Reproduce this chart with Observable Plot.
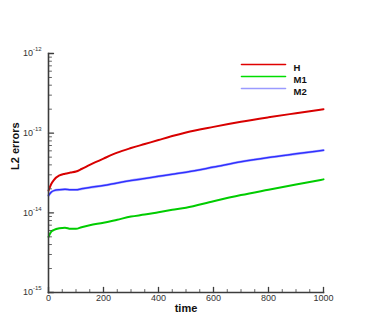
<!DOCTYPE html>
<html>
<head>
<meta charset="utf-8">
<script src="https://cdn.jsdelivr.net/npm/d3@7"></script>
<script src="https://cdn.jsdelivr.net/npm/@observablehq/plot@0.6"></script>
<style>
  html, body { margin: 0; padding: 0; background: #fff; }
  #chart { width: 368px; height: 327px; }
</style>
</head>
<body>
<div id="chart"></div>
<script>
// ---- data ----
const time = [0, 10, 20, 40, 60, 80, 100, 120, 150, 200, 250, 300, 350, 400, 450, 500, 600, 700, 800, 900, 1000];
const errH  = [1.9e-14, 2.3e-14, 2.6e-14, 2.95e-14, 3.1e-14, 3.2e-14, 3.3e-14, 3.55e-14, 4.0e-14, 4.8e-14, 5.7e-14, 6.5e-14, 7.3e-14, 8.2e-14, 9.2e-14, 1.02e-13, 1.2e-13, 1.39e-13, 1.58e-13, 1.78e-13, 2.0e-13];
const errM1 = [5.0e-15, 5.8e-15, 6.1e-15, 6.4e-15, 6.5e-15, 6.3e-15, 6.3e-15, 6.6e-15, 7.0e-15, 7.5e-15, 8.2e-15, 8.97e-15, 9.5e-15, 1.02e-14, 1.09e-14, 1.16e-14, 1.4e-14, 1.67e-14, 1.95e-14, 2.27e-14, 2.63e-14];
const errM2 = [1.65e-14, 1.82e-14, 1.9e-14, 1.95e-14, 1.97e-14, 1.95e-14, 1.95e-14, 2.0e-14, 2.08e-14, 2.2e-14, 2.37e-14, 2.54e-14, 2.7e-14, 2.87e-14, 3.05e-14, 3.24e-14, 3.75e-14, 4.37e-14, 4.95e-14, 5.5e-14, 6.1e-14];
const seriesNames = ["H", "M1", "M2"];
const seriesColors = ["#d80000", "#00cc00", "#3030ff"];
const legendColors = ["#e00000", "#00dd00", "#9a9aff"];
const xDomain = [0, 1000];
const yDomain = [1e-15, 1e-12];
const xMajorTicks = [0, 200, 400, 600, 800, 1000];
const xMinorTicks = d3.range(50, 1000, 50).filter(v => v % 200 !== 0);
const yMajorTicks = [1e-15, 1e-14, 1e-13, 1e-12];
const yExponents = ["-15", "-14", "-13", "-12"];
const yMinorTicks = [1e-15, 1e-14, 1e-13].flatMap(d => [2,3,4,5,6,7,8,9].map(m => m * d));
const xLabel = "time";
const yLabel = "L2 errors";

// ---- build table ----
const seriesValues = [errH, errM1, errM2];
const rows = seriesNames.flatMap((name, s) => time.map((t, i) => ({series: name, time: t, value: seriesValues[s][i]})));

const axisColor = "#3c3c3c";
const font = "'Liberation Sans', Arial, Helvetica, sans-serif";
const tickShape = {draw(context, l) { context.moveTo(0, 0); context.lineTo(0, -l); }};

const marks = [];
// curves
seriesNames.forEach((name, s) => {
  const data = rows.filter(d => d.series === name);
  if (name === "M2") {
    marks.push(Plot.line(data, {x: "time", y: "value", stroke: "#b8b8ff", strokeWidth: 2.6, curve: "monotone-x"}));
  }
  marks.push(Plot.line(data, {x: "time", y: "value", stroke: seriesColors[s], strokeWidth: name === "M2" ? 1.5 : 2, curve: "monotone-x"}));
});
// axes lines
marks.push(Plot.frame({anchor: "left", stroke: axisColor, strokeWidth: 1.6}));
marks.push(Plot.frame({anchor: "bottom", stroke: axisColor, strokeWidth: 1.6}));
// y ticks (inward)
marks.push(Plot.vector(yMajorTicks, {y: d => d, frameAnchor: "left", rotate: 90, length: 5, anchor: "start", shape: tickShape, stroke: axisColor, strokeWidth: 1.3}));
marks.push(Plot.vector(yMinorTicks, {y: d => d, frameAnchor: "left", rotate: 90, length: 3, anchor: "start", shape: tickShape, stroke: axisColor, strokeWidth: 0.8}));
// x ticks (inward)
marks.push(Plot.vector(xMajorTicks, {x: d => d, frameAnchor: "bottom", rotate: 0, length: 5, anchor: "start", shape: tickShape, stroke: axisColor, strokeWidth: 1.3}));
marks.push(Plot.vector(xMinorTicks, {x: d => d, frameAnchor: "bottom", rotate: 0, length: 3, anchor: "start", shape: tickShape, stroke: axisColor, strokeWidth: 0.8}));
// y tick labels
marks.push(Plot.text(yMajorTicks, {y: d => d, frameAnchor: "left", text: () => "10", textAnchor: "end", dx: -15.5, fontSize: 9, fill: "#333"}));
marks.push(Plot.text(yMajorTicks, {y: d => d, frameAnchor: "left", text: (d, i) => yExponents[i], textAnchor: "start", dx: -15.5, dy: -4, fontSize: 6, fill: "#333"}));
// x tick labels
marks.push(Plot.text(xMajorTicks, {x: d => d, frameAnchor: "bottom", text: d => String(d), lineAnchor: "top", dy: 2, fontSize: 9, fill: "#333"}));
// axis titles
marks.push(Plot.text([xLabel], {frameAnchor: "bottom", text: d => d, lineAnchor: "middle", dy: 16, fontSize: 11, fontWeight: "bold", fill: "#111"}));
marks.push(Plot.text([yLabel], {frameAnchor: "left", text: d => d, rotate: -90, dx: -33, dy: -3, fontSize: 11, fontWeight: "bold", fill: "#111"}));
// legend
seriesNames.forEach((name, s) => {
  marks.push(Plot.vector([name], {frameAnchor: "top-right", rotate: 90, length: 44, anchor: "start", shape: tickShape, dx: -82, dy: 11 + s * 12, stroke: legendColors[s], strokeWidth: 1.6}));
  marks.push(Plot.text([name], {frameAnchor: "top-right", text: d => d, textAnchor: "start", dx: -30, dy: 11 + s * 12, fontSize: 9.5, fontWeight: "bold", fill: "#111"}));
});

const chart = Plot.plot({
  width: 368,
  height: 327,
  marginLeft: 48,
  marginRight: 45,
  marginTop: 53,
  marginBottom: 35,
  style: {fontFamily: font, background: "#fff", overflow: "visible"},
  x: {domain: xDomain, axis: null},
  y: {type: "log", domain: yDomain, axis: null},
  marks
});
document.getElementById("chart").appendChild(chart);
</script>
</body>
</html>
